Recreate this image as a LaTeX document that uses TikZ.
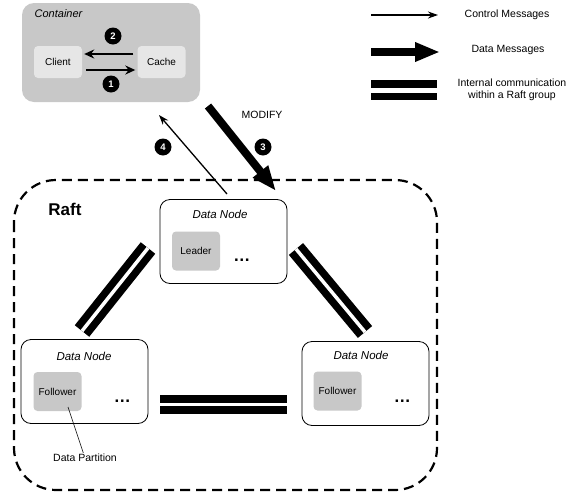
\documentclass[tikz,border=0pt]{standalone}
\usepackage{fontspec}
\setmainfont{Liberation Sans}
\usetikzlibrary{positioning,arrows.meta}
\definecolor{ctrgray}{RGB}{200,200,200}
\definecolor{clientgray}{RGB}{230,230,230}
\definecolor{partgray}{RGB}{200,200,200}
\tikzset{
  lbl/.style={inner sep=1pt, font=\fontsize{10.5}{12}\selectfont},
  title/.style={inner sep=1pt, font=\fontsize{11.5}{13}\selectfont\itshape},
  container/.style={rectangle, rounded corners=12pt, fill=ctrgray, minimum width=178pt, minimum height=99pt},
  part/.style={rectangle, rounded corners=4pt, fill=partgray, inner sep=0pt,
               minimum width=48pt, minimum height=39pt, font=\fontsize{10}{12}\selectfont},
  dnode/.style={rectangle, draw, rounded corners=10pt, line width=0.8pt, fill=white,
                minimum width=127pt, minimum height=84pt},
  ellip/.style={inner sep=1pt, font=\fontsize{17}{17}\selectfont\bfseries},
  num/.style={circle, fill=black, text=white, inner sep=0pt, minimum size=17pt,
              font=\fontsize{9.5}{9.5}\selectfont\bfseries},
  raft/.style={dash pattern=on 10pt off 6pt, line width=2.2pt, rounded corners=42pt},
  ctl/.style={-{Stealth[length=10pt,width=7pt]}, line width=1.3pt},
  msg/.style={-{Stealth[length=10pt,width=9pt]}, line width=2.2pt, shorten >=2pt, shorten <=4pt},
  data/.style={-{Triangle[length=25pt,width=18pt]}, line width=8pt},
  raftlink/.style={line width=7.5pt, double=white, double distance=3.5pt}, % two bars
}
\begin{document}
\begin{tikzpicture}[x=1pt, y=-1pt]
  \useasboundingbox (0,0) rectangle (579,496);

  \node[container] (ctr) at (111,52.5) {};
  \node[title, font=\fontsize{11}{13}\selectfont\itshape] (ctrLab) at (58.5,14) {Container};
  \node[part, fill=clientgray, minimum height=32pt] (client) at (58,62) {Client};
  \node[part, fill=clientgray, minimum height=32pt] (cache) at (161.5,62) {Cache};
  \draw[msg] ([yshift=8pt]cache.west) -- ([yshift=8pt]client.east);
  \draw[msg] ([yshift=-8pt]client.east) -- ([yshift=-8pt]cache.west);
  \node[num] (num2) at (113,36) {2};
  \node[num] (num1) at (111,84) {1};

  \draw[raft] (14,180) rectangle (437,490);
  \node[font=\fontsize{17}{17}\selectfont\bfseries] (raftLab) at (65,209) {Raft};

  \node[dnode] (dnTop) at (223.5,241.5) {};
  \node[title] (dnTopLab) at (220,214) {Data Node};
  \node[part] (leader) at (196,251) {Leader};
  \node[ellip, right=12pt of leader, yshift=-9pt] (dotsTop) {\dots};

  \node[dnode] (dnLeft) at (84.5,381.5) {};
  \node[title] (dnLeftLab) at (84,356) {Data Node};
  \node[part] (folLeft) at (57.5,391.5) {Follower};
  \node[ellip, right=31pt of folLeft, yshift=-10pt] (dotsLeft) {\dots};

  \node[dnode] (dnRight) at (365.5,383.5) {};
  \node[title] (dnRightLab) at (361,355) {Data Node};
  \node[part] (folRight) at (337.5,391) {Follower};
  \node[ellip, right=31pt of folRight, yshift=-10pt] (dotsRight) {\dots};

  \node[lbl] (partLab) at (85,458) {Data Partition};
  \coordinate (partPt) at (68,407);
  \draw[line width=0.6pt] (partPt) -- (partLab);

  \coordinate (barL1) at (148,248);
  \coordinate (barL2) at (82,331);
  \coordinate (barR1) at (296,249);
  \coordinate (barR2) at (365,332);
  \coordinate (barB1) at (160,404.5);
  \coordinate (barB2) at (287,404.5);
  \draw[raftlink] (barL1) -- (barL2);
  \draw[raftlink] (barR1) -- (barR2);
  \draw[raftlink] (barB1) -- (barB2);

  \coordinate (dataFrom) at (208,106);
  \coordinate (dataTo) at (276,191);
  \coordinate (ctlFrom) at (227,194);
  \coordinate (ctlTo) at (159,115);
  \draw[data] (dataFrom) -- (dataTo);
  \draw[ctl] (ctlFrom) -- (ctlTo);
  \node[lbl] (modLab) at (262,115) {MODIFY};
  \node[num] (num3) at (263,147) {3};
  \node[num] (num4) at (163,147) {4};

  \coordinate (lgCtl1) at (371,15);
  \coordinate (lgCtl2) at (438,15);
  \coordinate (lgData1) at (371,52);
  \coordinate (lgData2) at (440,52);
  \coordinate (lgRaft1) at (371,90);
  \coordinate (lgRaft2) at (437,90);
  \draw[ctl] (lgCtl1) -- (lgCtl2);
  \draw[data, line width=8.5pt] (lgData1) -- (lgData2);
  \draw[raftlink, double distance=5pt] (lgRaft1) -- (lgRaft2);
  \node[lbl] (lgCtlLab) at (507,15) {Control Messages};
  \node[lbl] (lgDataLab) at (508,50) {Data Messages};
  \node[lbl, align=center] (lgRaftLab) at (512,90) {Internal communication\\within a Raft group};
\end{tikzpicture}
\end{document}
